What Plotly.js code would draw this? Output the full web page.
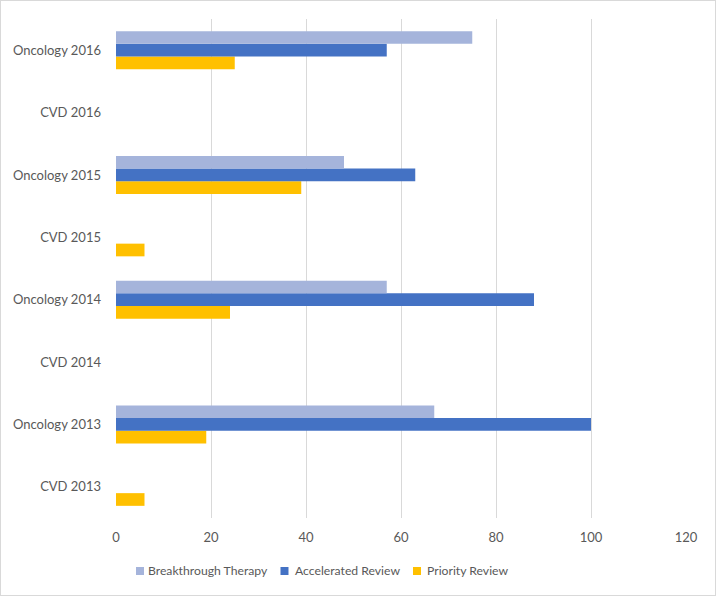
<!DOCTYPE html>
<html>
<head>
<meta charset="utf-8">
<script src="https://cdn.plot.ly/plotly-3.0.1.min.js"></script>
<style>
html,body{margin:0;padding:0;background:#fff;}
#chart{width:714px;height:594px;border:1px solid #D9D9D9;}
</style>
</head>
<body>
<div id="chart"></div>
<script>
const categories = ["CVD 2013","Oncology 2013","CVD 2014","Oncology 2014","CVD 2015","Oncology 2015","CVD 2016","Oncology 2016"];
const breakthroughTherapy = [0, 67, 0, 57, 0, 48, 0, 75];
const acceleratedReview   = [0, 100, 0, 88, 0, 63, 0, 57];
const priorityReview      = [6, 19, 0, 24, 6, 39, 0, 25];
const xTicks = [0, 20, 40, 60, 80, 100, 120];
const seriesNames = ["Breakthrough Therapy", "Accelerated Review", "Priority Review"];
const seriesColors = ["#A5B4DB", "#4472C4", "#FFC000"];

const font = {family: "Lato, sans-serif", size: 13, color: "#595959"};
const legendFont = {family: "Lato, sans-serif", size: 12.2, color: "#595959"};

// Priority first so that it is drawn at the bottom of each group (as in the reference)
const traces = [
  {name: seriesNames[2], y: categories, x: priorityReview, type: "bar", orientation: "h", marker: {color: seriesColors[2]}, showlegend: false},
  {name: seriesNames[1], y: categories, x: acceleratedReview, type: "bar", orientation: "h", marker: {color: seriesColors[1]}, showlegend: false},
  {name: seriesNames[0], y: categories, x: breakthroughTherapy, type: "bar", orientation: "h", marker: {color: seriesColors[0]}, showlegend: false}
];

// Custom legend (Excel-style small squares close to text)
const legendY = -0.1062;
const legendSquareX = [0.0421, 0.2956, 0.5281];
const legendTextX = [0.0561, 0.3140, 0.5456];
const shapes = [];
const annotations = [];
for (let i = 0; i < seriesNames.length; i++) {
  shapes.push({type: "rect", xref: "paper", yref: "paper", xsizemode: "pixel", ysizemode: "pixel",
    xanchor: legendSquareX[i], yanchor: legendY, x0: -4, x1: 4, y0: -4, y1: 4,
    fillcolor: seriesColors[i], line: {width: 0}});
  annotations.push({xref: "paper", yref: "paper", x: legendTextX[i], y: legendY, xanchor: "left", yanchor: "middle",
    text: seriesNames[i], showarrow: false, font: legendFont, borderpad: 0, xshift: -1});
}

const layout = {
  width: 714, height: 594,
  margin: {l: 115, r: 29, t: 18, b: 77, autoexpand: false},
  paper_bgcolor: "#fff", plot_bgcolor: "#fff",
  font: font,
  barmode: "group",
  bargap: 0.39,
  bargroupgap: 0,
  xaxis: {range: [0, 120], tickvals: xTicks, showgrid: true, gridcolor: "#D9D9D9", gridwidth: 1,
          zeroline: false, showline: false, ticks: "", tickfont: font, ticklabelstandoff: 10, fixedrange: true},
  yaxis: {type: "category", categoryorder: "array", categoryarray: categories, showgrid: false, zeroline: false,
          showline: false, ticks: "", tickfont: font, ticklabelstandoff: 14, fixedrange: true},
  showlegend: false,
  shapes: shapes,
  annotations: annotations
};

Plotly.newPlot("chart", traces, layout, {displayModeBar: false, staticPlot: true});
</script>
</body>
</html>
